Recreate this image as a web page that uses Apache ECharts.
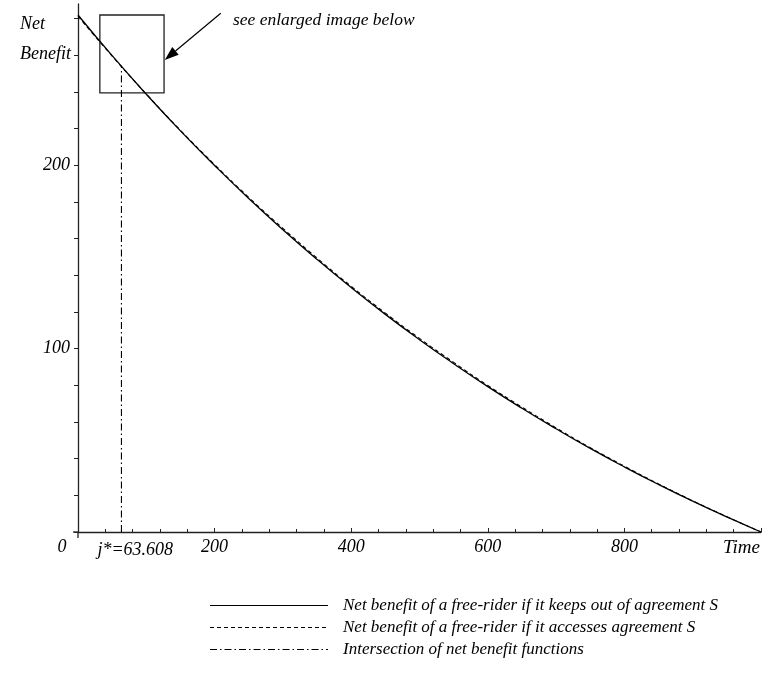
<!DOCTYPE html>
<html>
<head>
<meta charset="utf-8">
<script src="https://cdn.jsdelivr.net/npm/echarts@6/dist/echarts.min.js"></script>
<style>
    html, body { margin: 0; padding: 0; background: #fff; }
    #chart { width: 773px; height: 683px; }
</style>
</head>
<body>
<div id="chart"></div>
<script>
    // values
    var timeSteps = [0, 50, 100, 150, 200, 250, 300, 350, 400, 450, 500, 550, 600, 650, 700, 750, 800, 850, 900, 950, 1000]
    var keepOut = [282.0, 259.8, 238.8, 218.8, 199.9, 181.9, 164.9, 148.7, 133.3, 118.7, 104.9, 91.8, 79.3, 67.5, 56.3, 45.6, 35.5, 25.9, 16.8, 8.2, 0]
    var accessS = [281.3, 259.6, 238.9, 219.1, 200.4, 182.5, 165.6, 149.4, 134.0, 119.4, 105.6, 92.5, 79.9, 68.1, 56.8, 46.0, 35.9, 26.2, 17.0, 8.3, 0]
    var jStar = 63.608
    var jStarValue = 254.5
    var xLabels = [200, 400, 600, 800]
    var yLabels = [100, 200]
    var yTicks = [0, 20, 40, 60, 80, 100, 120, 140, 160, 180, 200, 220, 240, 260, 280]
    var zoomBox = [[32, 282], [126, 239.5]]
    var arrowLine = [[209, 283], [127, 257.5]]

    var names = [
        'Net benefit of a free-rider if it keeps out of agreement S',
        'Net benefit of a free-rider if it accesses agreement S',
        'Intersection of net benefit functions'
    ]
    var dashes = [null, [4, 3], [7, 3, 1.5, 3]]
    var serif = '"Liberation Serif", "DejaVu Serif", serif'

    function pairs (xs, ys) {
        return xs.map(function (x, i) { return [x, ys[i]] })
    }

    var chart = echarts.init(document.getElementById('chart'))

    chart.setOption({
        animation: false,
        grid: {
            left: 78,
            right: 12,
            top: 4,
            bottom: 151
        },
        xAxis: {
            type: 'value',
            min: 0,
            max: 1000,
            interval: 200,
            splitLine: { show: false },
            axisLine: { lineStyle: { color: '#222', width: 1.3 } },
            axisTick: { inside: true, length: 4, lineStyle: { color: '#222' } },
            minorTick: { show: true, splitNumber: 5, length: 3, lineStyle: { color: '#222' } },
            axisLabel: {
                customValues: xLabels,
                margin: 6,
                fontFamily: serif,
                fontStyle: 'italic',
                fontSize: 18,
                color: '#000'
            }
        },
        yAxis: {
            type: 'value',
            min: 0,
            max: 288,
            splitLine: { show: false },
            axisLine: { lineStyle: { color: '#222', width: 1.3 } },
            axisTick: { customValues: yTicks, length: 4, lineStyle: { color: '#222' } },
            axisLabel: {
                customValues: yLabels,
                margin: 8,
                fontFamily: serif,
                fontStyle: 'italic',
                fontSize: 18,
                color: '#000'
            }
        },
        series: [{
            name: names[0],
            type: 'line',
            smooth: true,
            symbol: 'none',
            data: pairs(timeSteps, keepOut),
            lineStyle: { color: '#000', width: 1.3 }
        }, {
            name: names[1],
            type: 'line',
            smooth: true,
            symbol: 'none',
            data: pairs(timeSteps, accessS),
            lineStyle: { color: '#000', width: 1.1, type: dashes[1] }
        }, {
            name: names[2],
            type: 'line',
            symbol: 'none',
            data: [[jStar, 0], [jStar, jStarValue]],
            lineStyle: { color: '#000', width: 1.1, type: dashes[2] }
        }]
    })

    // annotations placed through the axes' scales
    var b0 = chart.convertToPixel({ gridIndex: 0 }, zoomBox[0])
    var b1 = chart.convertToPixel({ gridIndex: 0 }, zoomBox[1])
    var a0 = chart.convertToPixel({ gridIndex: 0 }, arrowLine[0])
    var a1 = chart.convertToPixel({ gridIndex: 0 }, arrowLine[1])
    var ang = Math.atan2(a1[1] - a0[1], a1[0] - a0[0])
    var headLen = 14
    var headW = 5
    var baseX = a1[0] - headLen * Math.cos(ang)
    var baseY = a1[1] - headLen * Math.sin(ang)
    var origin = chart.convertToPixel({ gridIndex: 0 }, [0, 0])
    var jx = chart.convertToPixel({ gridIndex: 0 }, [jStar, 0])[0]
    var font = 'italic 18px ' + serif

    var graphics = [{
        // axes cross slightly past the origin
        type: 'line',
        shape: { x1: origin[0] - 5, y1: origin[1], x2: origin[0], y2: origin[1] },
        style: { stroke: '#222', lineWidth: 1.3 }
    }, {
        type: 'line',
        shape: { x1: origin[0], y1: origin[1], x2: origin[0], y2: origin[1] + 6 },
        style: { stroke: '#222', lineWidth: 1.3 }
    }, {
        type: 'rect',
        shape: { x: b0[0], y: b0[1], width: b1[0] - b0[0], height: b1[1] - b0[1] },
        style: { fill: 'none', stroke: '#222', lineWidth: 1.3 }
    }, {
        type: 'line',
        shape: { x1: a0[0], y1: a0[1], x2: baseX, y2: baseY },
        style: { stroke: '#000', lineWidth: 1.2 }
    }, {
        type: 'polygon',
        shape: {
            points: [
                [a1[0], a1[1]],
                [baseX + headW * Math.sin(ang), baseY - headW * Math.cos(ang)],
                [baseX - headW * Math.sin(ang), baseY + headW * Math.cos(ang)]
            ]
        },
        style: { fill: '#000' }
    }, {
        type: 'text',
        style: { x: 233, y: 20, text: 'see enlarged image below', font: 'italic 17.5px ' + serif, fill: '#000', verticalAlign: 'middle' }
    }, {
        type: 'text',
        style: { x: 20, y: 24, text: 'Net', font: font, fill: '#000', verticalAlign: 'middle' }
    }, {
        type: 'text',
        style: { x: 20, y: 54, text: 'Benefit', font: font, fill: '#000', verticalAlign: 'middle' }
    }, {
        type: 'text',
        style: { x: origin[0] - 16, y: origin[1] + 15, text: '0', font: font, fill: '#000', align: 'center', verticalAlign: 'middle' }
    }, {
        type: 'text',
        style: { x: jx - 24, y: origin[1] + 18, text: 'j*=63.608', font: font, fill: '#000', verticalAlign: 'middle' }
    }, {
        type: 'text',
        style: { x: 760, y: origin[1] + 16, text: 'Time', font: 'italic 19px ' + serif, fill: '#000', align: 'right', verticalAlign: 'middle' }
    }]

    // legend drawn by hand so the long line samples keep their dash patterns
    names.forEach(function (name, i) {
        var y = 605.5 + i * 22
        graphics.push({
            type: 'line',
            shape: { x1: 210, y1: y, x2: 328, y2: y },
            style: { stroke: '#000', lineWidth: 1, lineDash: dashes[i] }
        })
        graphics.push({
            type: 'text',
            style: { x: 343, y: y, text: name, font: 'italic 17px ' + serif, fill: '#000', verticalAlign: 'middle' }
        })
    })

    chart.setOption({ graphic: graphics })
</script>
</body>
</html>
